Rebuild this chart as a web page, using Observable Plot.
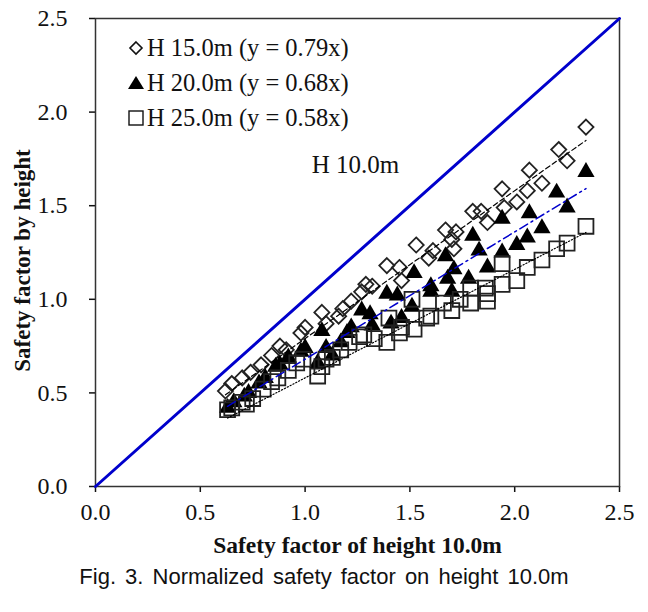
<!DOCTYPE html>
<html>
<head>
<meta charset="utf-8">
<script src="https://cdn.jsdelivr.net/npm/d3@7"></script>
<script src="https://cdn.jsdelivr.net/npm/@observablehq/plot@0.6"></script>
<style>
  body { margin: 0; background: #fff; }
  #wrap { position: relative; width: 648px; height: 612px; }
  #legend { position: absolute; left: 125px; top: 30px; font-family: "Liberation Serif", serif; font-size: 24.5px; color: #111; }
  #legend .row { height: 35px; line-height: 35px; white-space: nowrap; display: flex; align-items: center; }
  #legend svg { width: 22px; height: 22px; margin-right: 0px; }
  #caption { font-family: "Liberation Sans", Arial, sans-serif; font-size: 22px; text-align: center; line-height: 34px; color: #111; word-spacing: 3px; }
</style>
</head>
<body>
<div id="wrap">
  <div id="chart"></div>
  <div id="legend"></div>
  <div id="caption">Fig. 3. Normalized safety factor on height 10.0m</div>
</div>
<script>
// Series: H 15.0m (diamonds)
const h15x = [0.62,0.65,0.70,0.74,0.79,0.84,0.88,0.91,0.98,1.00,1.08,1.10,1.16,1.18,1.22,1.27,1.29,1.32,1.39,1.45,1.46,1.53,1.59,1.61,1.67,1.70,1.72,1.71,1.80,1.84,1.87,1.94,1.95,2.01,2.06,2.07,2.13,2.21,2.25,2.34];
const h15y = [0.51,0.55,0.58,0.61,0.65,0.70,0.75,0.73,0.82,0.85,0.93,0.87,0.91,0.95,0.99,1.04,1.08,1.07,1.18,1.17,1.10,1.29,1.22,1.26,1.37,1.32,1.36,1.27,1.47,1.47,1.41,1.59,1.49,1.52,1.58,1.69,1.62,1.80,1.74,1.92];
// Series: H 20.0m (triangles)
const h20x = [0.63,0.66,0.71,0.73,0.78,0.81,0.86,0.88,0.92,0.98,1.00,1.06,1.08,1.10,1.13,1.17,1.20,1.22,1.27,1.31,1.32,1.39,1.41,1.44,1.46,1.51,1.52,1.60,1.60,1.67,1.68,1.70,1.71,1.78,1.80,1.83,1.87,1.94,1.94,2.01,2.06,2.07,2.13,2.20,2.25,2.34];
const h20y = [0.42,0.45,0.48,0.50,0.55,0.58,0.64,0.65,0.69,0.72,0.74,0.66,0.83,0.74,0.70,0.77,0.82,0.85,0.94,0.92,0.86,1.03,0.87,1.02,0.90,0.96,1.14,1.04,1.07,1.23,1.11,1.04,1.16,1.11,1.34,1.26,1.17,1.43,1.25,1.29,1.33,1.46,1.38,1.57,1.49,1.68];
// Series: H 25.0m (squares)
const h25x = [0.63,0.65,0.70,0.72,0.75,0.80,0.84,0.87,0.92,0.96,0.99,1.06,1.08,1.10,1.13,1.17,1.21,1.26,1.28,1.33,1.39,1.40,1.45,1.46,1.51,1.52,1.58,1.60,1.66,1.70,1.74,1.79,1.79,1.87,1.87,1.86,1.94,1.94,2.01,2.06,2.13,2.20,2.25,2.34];
const h25y = [0.41,0.42,0.45,0.44,0.47,0.52,0.56,0.58,0.62,0.66,0.68,0.59,0.64,0.68,0.69,0.73,0.77,0.80,0.81,0.79,0.77,0.90,0.82,0.85,1.00,0.84,0.90,0.91,0.98,0.94,1.00,0.98,1.06,0.99,1.03,1.06,1.08,1.19,1.10,1.17,1.21,1.27,1.30,1.39];

const seriesNames = ["H 15.0m (y = 0.79x)", "H 20.0m (y = 0.68x)", "H 25.0m (y = 0.58x)"];
const slopes = [0.79, 0.68, 0.58];
const refLabel = "H 10.0m";
const refLabelPos = [1.24, 1.715];
const refLine = [0, 2.5];
const xTicks = [0, 0.5, 1.0, 1.5, 2.0, 2.5];
const yTicks = [0, 0.5, 1.0, 1.5, 2.0, 2.5];
const xTitle = "Safety factor of height 10.0m";
const yTitle = "Safety factor by height";

const toPts = (xs, ys) => xs.map((x, i) => ({x, y: ys[i]}));
const d15 = toPts(h15x, h15y), d20 = toPts(h20x, h20y), d25 = toPts(h25x, h25y);
const fitLine = (xs, k) => { const [a, b] = d3.extent(xs); return [{x: a, y: k * a}, {x: b, y: k * b}]; };

const fmt = d3.format(".1f");
const chart = Plot.plot({
  width: 648, height: 560,
  marginLeft: 95, marginRight: 29, marginTop: 18, marginBottom: 74,
  style: { fontFamily: "'Liberation Serif', serif", fontSize: "24px", color: "#111", background: "#fff" },
  x: { domain: [0, 2.5] },
  y: { domain: [0, 2.5] },
  marks: [
    Plot.axisX({ ticks: xTicks, tickFormat: fmt, tickSize: 6, tickPadding: 10, label: null, strokeWidth: 1.5, fontSize: 24 }),
    Plot.axisY({ ticks: yTicks, tickFormat: fmt, tickSize: 6, tickPadding: 22, label: null, strokeWidth: 1.5, fontSize: 24 }),
    Plot.frame({ stroke: "#333", strokeWidth: 1.5 }),
    Plot.line(refLine.map(v => ({x: v, y: v})), { x: "x", y: "y", stroke: "#0000cc", strokeWidth: 3 }),
    Plot.dot(d15, { x: "x", y: "y", symbol: "diamond2", r: 6.8, stroke: "#222", strokeWidth: 1.8, fill: "none" }),
    Plot.dot(d20, { x: "x", y: "y", symbol: "triangle", r: 6.4, fill: "#000", stroke: "none" }),
    Plot.dot(d25, { x: "x", y: "y", symbol: "square2", r: 9.5, stroke: "#222", strokeWidth: 1.8, fill: "none" }),
    Plot.line(fitLine(h15x, slopes[0]), { x: "x", y: "y", stroke: "#000", strokeWidth: 1.2, strokeDasharray: "5,3" }),
    Plot.line(fitLine(h20x, slopes[1]), { x: "x", y: "y", stroke: "#0000cc", strokeWidth: 1.5, strokeDasharray: "9,4,2,4" }),
    Plot.line(fitLine(h25x, slopes[2]), { x: "x", y: "y", stroke: "#000", strokeWidth: 1.2, strokeDasharray: "1.2,2" }),
    Plot.text([refLabel], { x: () => refLabelPos[0], y: () => refLabelPos[1], text: d => d, fontSize: 25, fill: "#111" }),
    Plot.text([xTitle], { frameAnchor: "bottom", dy: 59, lineAnchor: "middle", textAnchor: "middle", text: d => d, fontSize: 23.5, fontWeight: "bold", fill: "#111" }),
    Plot.text([yTitle], { frameAnchor: "left", dx: -73, dy: 8, rotate: -90, textAnchor: "middle", lineAnchor: "middle", text: d => d, fontSize: 23, fontWeight: "bold", fill: "#111" })
  ]
});
document.getElementById("chart").appendChild(chart);

// Legend
const sym = [
  '<svg viewBox="-11 -11 22 22"><path d="M0,-6L6,0L0,6L-6,0Z" fill="none" stroke="#111" stroke-width="1.6"/></svg>',
  '<svg viewBox="-11 -11 22 22"><path d="M0,-7L8,6L-8,6Z" fill="#000"/></svg>',
  '<svg viewBox="-11 -11 22 22"><rect x="-7" y="-7" width="14" height="14" fill="none" stroke="#111" stroke-width="1.4"/></svg>'
];
const leg = document.getElementById("legend");
seriesNames.forEach((n, i) => {
  const row = document.createElement("div");
  row.className = "row";
  row.innerHTML = sym[i] + "<span>" + n + "</span>";
  leg.appendChild(row);
});
</script>
</body>
</html>
